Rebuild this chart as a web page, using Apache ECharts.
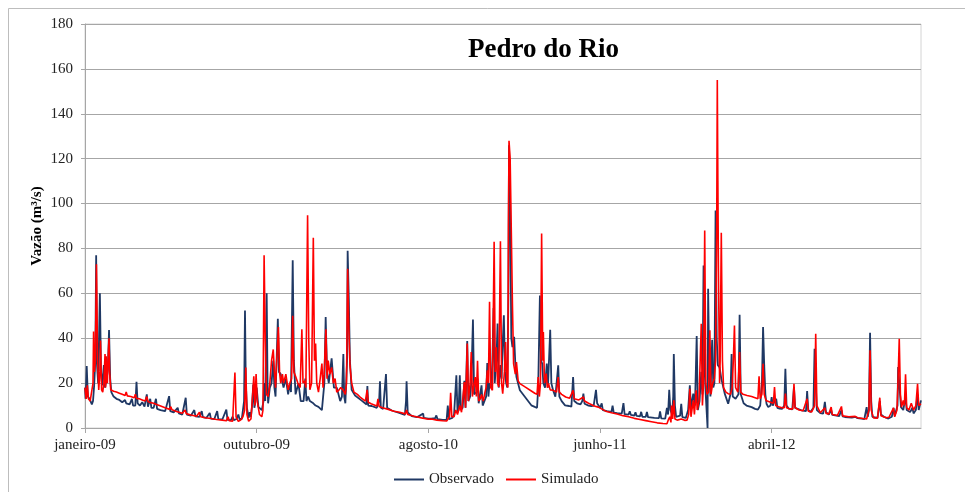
<!DOCTYPE html>
<html>
<head>
<meta charset="utf-8">
<script src="https://cdn.jsdelivr.net/npm/echarts@6/dist/echarts.min.js"></script>
<style>
  html, body { margin: 0; padding: 0; background: #fff; }
  #chart { width: 965px; height: 492px; }
</style>
</head>
<body>
<div id="chart"></div>
<script>
// eixo X: dias desde 01/01/2009, rótulos a cada 300 dias
var xTickLabels = ['janeiro-09', 'outubro-09', 'agosto-10', 'junho-11', 'abril-12'];
var yTicks = [0, 20, 40, 60, 80, 100, 120, 140, 160, 180];
var totalDays = 1461;

// vazão observada [dia, m3/s]
var observado = [
  [0,18],[1,13],[3,27.6],[5,14],[8,13],[12,10.5],[14,12],[16,19],[18,30],[19.5,77],[21,28],[23,20],[26,60],[28,25],[30,19],[33,28],[35,18],[38,22],[40,26],[42,43.6],[44,22],[46,16],[50,14],[55,13],[60,12.5],[65,11.5],[70,12.5],[72,11],[78,10.5],[82,13],[84,10],[88,10],[90,20.6],[92,11],[96,10],[100,11.5],[104,9.5],[108,15],[110,9.5],[114,13],[116,9],[120,9],[124,13],[126,8.5],[132,8],[140,7.5],[147,14.2],[149,7.5],[155,7],[162,9],[164,6.5],[170,6],[176,13.5],[178,6],[185,5.5],[191,8],[193,5.2],[200,5],[204,7.5],[206,4.8],[212,4.5],[218,6.7],[220,4.2],[226,4],[231,7.5],[233,4],[240,3.8],[247,8.2],[249,3.6],[255,3.5],[258,5],[260,3.5],[265,4],[268,6],[270,4],[274,4],[276,8],[278,12],[279.6,52.3],[281,20],[283,9],[286,4.5],[288,7],[290,5],[292,10],[294,19.4],[296,9],[298,12],
  [300,18],[303,9.4],[309,8],[312,12],[313,20],[315,12],[317.5,60],[319,20],[320,11],[323,18],[326,20],[329,30],[331,18],[333,14],[337,48.7],[339,25],[342,24],[347,18],[351,22],[355,15],[358,20],[360,16],[363,74.7],[365,30],[368,15],[373,20],[377,12],[382,12],[385,22],[387,12],[390,14],[393,12],[399,11],[403,10],[408,9.4],[414,8],[417,8],[418.3,20],[420.6,49.5],[423,25],[426,20],[431,31],[435,18],[440,18],[446,12],[449,14],[451.5,33],[453,14],[455,11],[458,30],[459,79],[461,58],[463,30],[466,17],[472,14.5],[483,12.3],[492,10.5],[493.5,18.7],[495,10],[501,9.8],[510,9],[514,12],[515.5,20.8],[517,9],[521,8.5],[524,9],[526,24],[528,9],[536,7.8],[548,6.8],[559,5.8],[561,12],[562,20.8],[564,7],[571,5.3],[580,4.8],[591,6.4],[592,4.5],[600,4.2],
  [605,4.2],[612,4.4],[614,5.6],[616,4],[625,3.6],[632,3.6],[634,10],[636,4],[642,4.5],[645,6],[649,23.5],[651,7],[653,8],[655,23.5],[657,8],[660,9],[663,21],[665,9],[668,38.8],[670,12],[673,14],[675,20],[678,48.3],[680,15],[684,16],[686,22],[688,11],[691,11],[693,19],[695,10],[698,12],[701,14],[703,29],[705,14],[707,20],[710,18],[712,30],[714,53.5],[716,20],[719,30],[721,46.5],[723,18],[726,28],[728,22],[730,37.6],[732,50.2],[734,25],[736,20],[738,18],[740,60],[741,126],[743,100],[745,40],[747,36],[750,40.6],[752,28.7],[754,22.7],[760,16.8],[769,13.8],[780,10.1],[786,9.4],[790,9],[792,18],[795,59],[797,30],[799,28.7],[801,20],[804,18],[807,28.7],[809,18],[813,43.8],[815,20],[818,16.8],[822,14],[827,27.9],[829,14],[833,12],[839,10.1],[846,9.8],[850,9.5],[853,22.7],[855,12],[860,11],[866,10.5],[869,12],[871,15.3],[873,10.8],[880,10],[885,9.7],[889,10],[893,17],[895,11],
  [897,10.8],[900,9],[903,11],[905,8],[912,7.5],[920,7.2],[922,10],[924,6.8],[930,6.6],[938,6.4],[941,11.1],[943,6.2],[950,6],[952,7.5],[954,5.8],[960,5.5],[962,7],[964,5.4],[970,5.2],[972,7.2],[974,5],[980,5],[982,7.1],[984,4.8],[995,4.5],[1003,4.4],[1005,7.4],[1007,4.3],[1014,4.2],[1017,9],[1019,6],[1021,17],[1023,8],[1026,6],[1028,14],[1029,33],[1031,10],[1033,5],[1040,5.5],[1042,10.8],[1044,4.8],[1050,4.5],[1054,8],[1057,19],[1059,9],[1063,15.3],[1066,10],[1069,41],[1071,8],[1074,12],[1077,25],[1079,15],[1081,72.4],[1083,25],[1085,14],[1088,0],[1089,62],[1091,25],[1093,14],[1096,39.3],[1098,18],[1100,20],[1102,96.9],[1104,40],[1106,28],[1109,27],[1112,22],[1114,22.7],[1118,15.3],[1124,10.8],[1128,15],[1130,33],[1132,14],[1137,13],[1142,15],[1144,50.4],[1146,15],[1151,11],[1156,10],[1165,9.3],[1171,8.5],[1176,8.2],[1180,10],[1183,20],[1185,45],[1187,28],[1189,15],
  [1191,10.8],[1194,9.3],[1198,10],[1200,13.8],[1202,10],[1205,12],[1208,13],[1210,9],[1214,8.6],[1218,8.5],[1222,10],[1224,26.4],[1226,10],[1230,8.6],[1236,8.3],[1239,18.2],[1241,9],[1244,8.6],[1252,7.9],[1260,7.5],[1262,16.5],[1264,8],[1268,7.1],[1273,9],[1275,35.3],[1277,20],[1279,8],[1285,6.6],[1290,6.4],[1293,11.6],[1295,7],[1300,6],[1304,8],[1306,5.8],[1311,5.6],[1318,5.3],[1322,8],[1324,5.2],[1328,4.9],[1340,4.6],[1346,5],[1350,4.4],[1357,4.2],[1362,4],[1366,9.3],[1368,5],[1370,8],[1372,42.4],[1374,12],[1376,5],[1385,4.5],[1389,12],[1391,6],[1396,5],[1404,4.2],[1410,5],[1413,9],[1415,5.5],[1420,10],[1421,27.2],[1423,20],[1426,9.3],[1430,8],[1434,14],[1436,8],[1442,7.1],[1446,9],[1448,6.5],[1452,8],[1455,15],[1457,8],[1461,12.3]
];

// vazão simulada [dia, m3/s]
var simulado = [
  [0,18],[2,13],[4,19],[6,13],[9,12],[12,12],[14,20],[15,43],[16.5,25],[18,30],[20,73],[22,30],[24,17],[26,25],[27,39],[29,17],[31,16],[33,20],[35,33],[36,18],[37,32],[39,20],[41,35],[42,40],[43,25],[45,17],[50,16.4],[55,16],[60,15.5],[65,15],[70,14.5],[72,16],[74,14.3],[80,14],[86,13.5],[88,15],[90,13.2],[95,13],[100,12.5],[105,12],[108,14],[110,11.8],[115,11.3],[120,11],[125,10.5],[130,10],[140,9],[148,8.3],[150,9.5],[152,8.1],[160,7.4],[170,6.6],[175,8],[177,6.4],[185,5.8],[195,5.2],[200,7],[202,5],[210,4.6],[220,4.2],[230,3.8],[240,3.5],[247,3.2],[250,5],[252,3.2],[258,3],[262,24.7],[264,5],[268,3],[272,3.5],[276,5],[279,8],[281,27],[283,6],[286,3],[290,4],[293,15],[295,23],[297,10],
  [299,24],[301,12],[305,6],[309,5],[311,8],[313,77],[315,40],[317,15],[320,14],[323,20],[326,30],[329,35],[331,25],[333,18],[335,30],[338,45],[340,25],[342,20],[345,24],[347,20],[351,24],[355,17],[358,20],[361,22],[363,50],[365,25],[368,23],[372,20],[376,18],[379,44],[381,20],[384,21],[386,18],[389,94.8],[391,40],[393,17],[396,20],[399,84.8],[401,30],[403,37.6],[405,20],[408,16],[411,22],[414,28.7],[416,18],[418,24],[421,44],[423,22],[425,30],[428,24],[431,27],[434,20],[437,22],[440,16],[444,17],[447,18],[451,17],[455,15],[457,20],[459,71],[461,45],[463,28],[466,20],[470,16],[476,15],[482,13.5],[490,12],[493,17],[495,11.5],[500,10.8],[510,9.8],[512,13],[514,9.6],[520,9],[530,8.3],[540,7.5],[550,7],[560,6.3],[562,8],[564,6],[575,5.2],[588,4.5],[600,3.9],
  [605,4],[615,3.5],[625,3.2],[632,3.1],[637,5],[639,15.7],[641,5],[645,5],[648,8],[651,6],[655,10],[658,7],[661,15],[663,20.5],[665,9],[668,37.6],[670,12],[673,20],[675,33.9],[677,14],[680,20],[682,22.7],[684,14],[686,29.9],[688,12],[691,13],[693,15],[696,12],[699,16],[701,18],[703,25.7],[705,20],[707,56.2],[709,18],[712,16.8],[715,83],[717,25],[719,36],[721,20],[723,18.3],[726,83.2],[728,20],[730,15.3],[733,25],[735,38.3],[737,20],[739,18],[740,90],[741,128],[743,120],[745,88],[747,55],[749,28.7],[752,24],[754,29.4],[757,21],[760,19.8],[769,18.3],[780,16.5],[786,15.5],[790,15],[792,22.7],[794,14],[796,20],[798,86.6],[800,30],[801,42.8],[803,20],[806,24.2],[808,18],[810,19.8],[813,17],[818,16.8],[824,16],[827,22.7],[829,16],[833,15],[840,13.8],[847,13.3],[853,16.8],[855,13],[863,12.5],[871,13.8],[873,12],[880,11],[890,9.8],
  [897,9.3],[900,8.5],[910,7.5],[920,6.8],[930,6.2],[940,5.5],[950,5],[960,4.3],[970,3.8],[980,3.3],[990,2.8],[1000,2.3],[1010,2],[1017,1.9],[1020,4],[1022,5],[1024,2.5],[1025,10],[1027,4],[1029,12.3],[1031,4],[1035,3.5],[1042,4],[1048,3.4],[1052,3.5],[1055,6],[1057,17.5],[1059,5],[1063,12.3],[1065,6],[1068,16.8],[1070,8],[1073,12],[1077,46.4],[1079,10],[1081,20],[1083,88],[1085,20],[1087,15],[1090,16],[1092,43.5],[1094,15],[1097,20],[1100,22],[1102,30],[1104,90],[1105,155],[1106,110],[1107,70.2],[1109,20],[1110,30],[1112,87],[1114,30],[1116,18],[1120,16],[1124,15.3],[1128,15],[1131,18],[1133,30],[1135,45.7],[1137,18],[1141,16],[1144,33.8],[1146,16],[1150,15],[1157,14.5],[1165,14],[1171,13.5],[1176,13],[1178,23],[1180,13],[1183,15],[1185,28.6],[1187,15],[1190,12.3],
  [1193,12],[1198,11.5],[1203,11],[1205,18.2],[1207,10],[1212,9.5],[1218,9],[1222,9],[1224,15.3],[1226,9],[1232,8.5],[1237,8.5],[1239,19.7],[1241,9],[1248,8],[1255,7.7],[1262,13],[1264,7.5],[1270,7.2],[1275,10],[1277,42],[1279,10],[1285,6.8],[1293,9],[1295,6.5],[1300,6.3],[1304,9.3],[1306,6],[1315,5.6],[1322,9.6],[1324,5.4],[1335,5],[1346,5.2],[1350,4.6],[1360,4.2],[1366,4],[1370,8],[1372,34.6],[1374,8],[1378,4.5],[1385,4.4],[1389,13.5],[1391,5.5],[1400,4.6],[1405,4.8],[1413,9],[1415,5],[1419,8],[1421,22],[1423,39.8],[1425,15],[1427,9.3],[1430,12.3],[1432,10],[1434,23.9],[1436,9],[1440,8],[1444,11],[1448,8],[1452,10],[1455,19.7],[1457,10],[1461,10.8]
];

var serif = "'Liberation Serif', 'Times New Roman', serif";
var chart = echarts.init(document.getElementById('chart'));

var option = {
  animation: false,
  backgroundColor: '#fff',
  graphic: [{
    type: 'rect',
    shape: { x: 8.5, y: 8.5, width: 1200, height: 1200 },
    style: { fill: 'none', stroke: '#bdbdbd', lineWidth: 1 },
    silent: true
  }],
  title: {
    text: 'Pedro do Rio',
    left: 463,
    top: 32,
    textStyle: { fontFamily: serif, fontSize: 27, fontWeight: 'bold', color: '#000' }
  },
  legend: {
    data: ['Observado', 'Simulado'],
    left: 389,
    top: 467,
    icon: 'rect',
    itemWidth: 30,
    itemHeight: 2,
    itemGap: 12,
    textStyle: { fontFamily: serif, fontSize: 15, color: '#222' }
  },
  grid: {
    left: 85,
    right: 44,
    top: 24,
    bottom: 64,
    show: true,
    borderColor: '#d4d4d4',
    borderWidth: 1
  },
  xAxis: {
    type: 'value',
    min: 0,
    max: totalDays,
    interval: 300,
    axisLine: { show: true, lineStyle: { color: '#a6a6a6' } },
    axisTick: { show: true, length: 5, lineStyle: { color: '#a6a6a6' } },
    splitLine: { show: false },
    axisLabel: {
      showMaxLabel: false,
      margin: 10,
      fontFamily: serif,
      fontSize: 15,
      color: '#222',
      formatter: function (v) {
        var k = Math.round(v / 300);
        return (v % 300 === 0 && xTickLabels[k]) ? xTickLabels[k] : '';
      }
    }
  },
  yAxis: {
    type: 'value',
    min: yTicks[0],
    max: yTicks[yTicks.length - 1],
    interval: 20,
    name: 'Vazão (m³/s)',
    nameLocation: 'middle',
    nameGap: 40,
    nameMoveOverlap: false,
    nameTextStyle: { fontFamily: serif, fontSize: 15, fontWeight: 'bold', color: '#000' },
    axisLine: { show: true, lineStyle: { color: '#a6a6a6' } },
    axisTick: { show: true, length: 4, lineStyle: { color: '#a6a6a6' } },
    splitLine: { show: true, lineStyle: { color: '#a6a6a6' } },
    axisLabel: { margin: 12, fontFamily: serif, fontSize: 15, color: '#222' }
  },
  series: [
    {
      name: 'Observado',
      type: 'line',
      data: observado,
      symbol: 'none',
      color: '#1f3864',
      lineStyle: { width: 1.8, color: '#1f3864' }
    },
    {
      name: 'Simulado',
      type: 'line',
      data: simulado,
      symbol: 'none',
      color: '#ff0000',
      lineStyle: { width: 1.6, color: '#ff0000' }
    }
  ]
};

chart.setOption(option);
</script>
</body>
</html>
